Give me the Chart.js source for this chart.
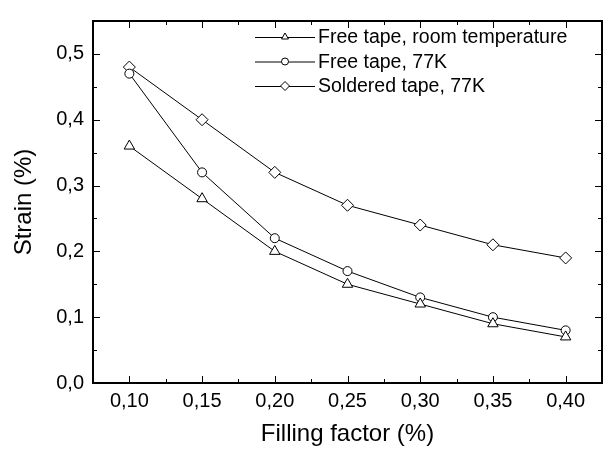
<!DOCTYPE html>
<html>
<head>
<meta charset="utf-8">
<script src="https://cdn.jsdelivr.net/npm/chart.js@4"></script>
<style>
  html, body { margin: 0; padding: 0; background: #fff; }
  #wrap { width: 609px; height: 450px; }
</style>
</head>
<body>
<div id="wrap"><canvas id="c"></canvas></div>
<script>
const fillingFactor = [0.10, 0.15, 0.20, 0.25, 0.30, 0.35, 0.40];
const freeRoom = [0.36, 0.28, 0.20, 0.15, 0.12, 0.09, 0.07];
const free77 = [0.47, 0.32, 0.22, 0.17, 0.13, 0.10, 0.08];
const soldered77 = [0.48, 0.40, 0.32, 0.27, 0.24, 0.21, 0.19];
const xTicks = [0.10, 0.15, 0.20, 0.25, 0.30, 0.35, 0.40];
const yTicks = [0.0, 0.1, 0.2, 0.3, 0.4, 0.5];

const FONT = 'Arial, "Liberation Sans", sans-serif';

function toPoints(ys) {
  return fillingFactor.map((x, i) => ({ x: x, y: ys[i] }));
}

function series(label, ys, style, r) {
  return {
    label: label,
    data: toPoints(ys),
    showLine: true,
    borderColor: '#000',
    borderWidth: 1,
    backgroundColor: '#fff',
    pointStyle: style,
    pointRadius: r,
    pointHoverRadius: r,
    pointBorderColor: '#000',
    pointBackgroundColor: '#fff',
    pointBorderWidth: 1,
    tension: 0
  };
}

// frame, inward ticks and the in-plot legend
const framePlugin = {
  id: 'frame',
  afterDatasetsDraw(chart) {
    const ctx = chart.ctx;
    const a = chart.chartArea;
    const xs = chart.scales.x, ys = chart.scales.y;
    ctx.save();
    ctx.strokeStyle = '#000';
    ctx.lineWidth = 1;
    ctx.beginPath();
    // x ticks (major every 0.05, minor in between), bottom and top
    for (let i = 0; i < xTicks.length; i++) {
      const px = Math.round(xs.getPixelForValue(xTicks[i])) + 0.5;
      ctx.moveTo(px, a.bottom); ctx.lineTo(px, a.bottom - 7);
      ctx.moveTo(px, a.top); ctx.lineTo(px, a.top + 7);
    }
    for (let i = 0; i <= xTicks.length; i++) {
      const v = (i === 0 ? xTicks[0] - 0.025 : xTicks[i - 1] + 0.025);
      if (v <= xs.min || v >= xs.max) continue;
      const px = Math.round(xs.getPixelForValue(v)) + 0.5;
      ctx.moveTo(px, a.bottom); ctx.lineTo(px, a.bottom - 4);
      ctx.moveTo(px, a.top); ctx.lineTo(px, a.top + 4);
    }
    // y ticks, left and right
    for (let i = 0; i < yTicks.length; i++) {
      const py = Math.round(ys.getPixelForValue(yTicks[i])) + 0.5;
      ctx.moveTo(a.left, py); ctx.lineTo(a.left + 7, py);
      ctx.moveTo(a.right, py); ctx.lineTo(a.right - 7, py);
      const m = yTicks[i] + 0.05;
      if (m < ys.max) {
        const pm = Math.round(ys.getPixelForValue(m)) + 0.5;
        ctx.moveTo(a.left, pm); ctx.lineTo(a.left + 4, pm);
        ctx.moveTo(a.right, pm); ctx.lineTo(a.right - 4, pm);
      }
    }
    ctx.stroke();
    ctx.lineWidth = 2;
    ctx.strokeRect(a.left, a.top, a.right - a.left, a.bottom - a.top);

    // legend
    const lx = 255, lw = 60, ly0 = 37, dy = 24.5;
    const sizes = [4, 3.5, 4.5];
    ctx.font = '19.5px ' + FONT;
    ctx.fillStyle = '#000';
    ctx.textBaseline = 'middle';
    chart.data.datasets.forEach((ds, i) => {
      const y = ly0 + i * dy;
      ctx.lineWidth = 1;
      ctx.strokeStyle = '#000';
      ctx.beginPath();
      ctx.moveTo(lx, y + 0.5); ctx.lineTo(lx + lw, y + 0.5);
      ctx.stroke();
      ctx.fillStyle = '#fff';
      Chart.helpers.drawPoint(ctx, { pointStyle: ds.pointStyle, radius: sizes[i], borderWidth: 1, rotation: 0 }, lx + lw / 2, y);
      ctx.fillStyle = '#000';
      ctx.fillText(ds.label, lx + lw + 3, y + 1);
    });
    ctx.restore();
  }
};

new Chart(document.getElementById('c'), {
  type: 'scatter',
  data: {
    datasets: [
      series('Free tape, room temperature', freeRoom, 'triangle', 6),
      series('Free tape, 77K', free77, 'circle', 4.5),
      series('Soldered tape, 77K', soldered77, 'rectRot', 6)
    ]
  },
  options: {
    responsive: true,
    maintainAspectRatio: false,
    animation: false,
    layout: { padding: { top: 8, right: 7, left: 0, bottom: 0 } },
    plugins: { legend: { display: false }, tooltip: { enabled: false } },
    scales: {
      x: {
        type: 'linear',
        min: 0.075,
        max: 0.425,
        afterBuildTicks: (s) => { s.ticks = xTicks.map((v) => ({ value: v })); },
        afterFit: (s) => { s.height = 67; },
        grid: { display: false, drawTicks: false },
        border: { display: false },
        ticks: {
          color: '#000',
          font: { family: FONT, size: 20 },
          padding: 6,
          maxRotation: 0,
          callback: (v) => v.toFixed(2).replace('.', ',')
        },
        title: {
          display: true,
          text: 'Filling factor (%)',
          color: '#000',
          font: { family: FONT, size: 24 },
          padding: { top: 2, bottom: 1 }
        }
      },
      y: {
        min: 0,
        max: 0.55,
        afterBuildTicks: (s) => { s.ticks = yTicks.map((v) => ({ value: v })); },
        afterFit: (s) => { s.width = 93; },
        grid: { display: false, drawTicks: false },
        border: { display: false },
        ticks: {
          color: '#000',
          font: { family: FONT, size: 20 },
          padding: 9,
          callback: (v) => v.toFixed(1).replace('.', ',')
        },
        title: {
          display: true,
          text: 'Strain (%)',
          color: '#000',
          font: { family: FONT, size: 24 },
          padding: { top: 10, bottom: 0 }
        }
      }
    }
  },
  plugins: [framePlugin]
});
</script>
</body>
</html>
